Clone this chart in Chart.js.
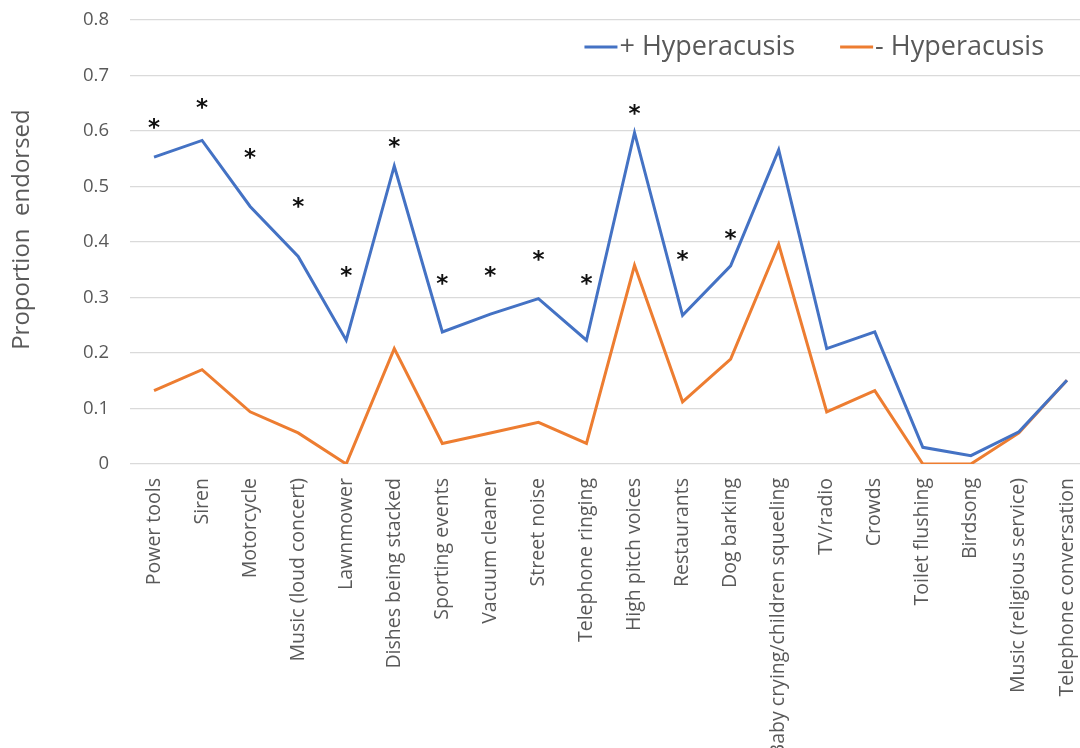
<!DOCTYPE html>
<html>
<head>
<meta charset="utf-8">
<script src="https://cdn.jsdelivr.net/npm/chart.js@4"></script>
<style>
html,body{margin:0;padding:0;background:#fff;overflow:hidden;width:1080px;height:748px;}
canvas{display:block;}
</style>
</head>
<body>
<canvas id="c" width="1095" height="748"></canvas>
<script>
const categories = ["Power tools","Siren","Motorcycle","Music (loud concert)","Lawnmower","Dishes being stacked","Sporting events","Vacuum cleaner","Street noise","Telephone ringing","High pitch voices","Restaurants","Dog barking","Baby crying/children squeeling","TV/radio","Crowds","Toilet flushing","Birdsong","Music (religious service)","Telephone conversation"];
const plusHyperacusis = [0.553,0.583,0.464,0.374,0.223,0.537,0.238,0.27,0.298,0.223,0.597,0.268,0.357,0.566,0.208,0.238,0.03,0.015,0.058,0.151];
const minusHyperacusis = [0.132,0.17,0.094,0.056,0,0.208,0.037,0.056,0.075,0.037,0.358,0.112,0.189,0.396,0.094,0.132,0,0,0.056,0.151];
// significance markers (asterisk height, in y units), null = none
const asteriskLevels = [0.614,0.649,0.560,0.472,0.346,0.580,0.332,0.346,0.375,0.332,0.638,0.375,0.414,null,null,null,null,null,null,null];
const yTickLabels = ["0","0.1","0.2","0.3","0.4","0.5","0.6","0.7","0.8"];
const seriesNames = ["+ Hyperacusis","- Hyperacusis"];
const seriesColors = ["#4472C4","#ED7D31"];

const FONT = "'Open Sans', 'Liberation Sans', sans-serif";
const GREY = "#595959";

const asteriskPlugin = {
  id: 'asterisks',
  afterDatasetsDraw(chart) {
    const ctx = chart.ctx, xs = chart.scales.x, ys = chart.scales.y;
    ctx.save();
    ctx.fillStyle = '#111';
    ctx.font = "bold 23px 'DejaVu Sans', sans-serif";
    ctx.textAlign = 'center';
    ctx.textBaseline = 'alphabetic';
    const m = ctx.measureText('*');
    const mid = (m.actualBoundingBoxAscent - m.actualBoundingBoxDescent) / 2;
    asteriskLevels.forEach((v, i) => {
      if (v === null) return;
      ctx.fillText('*', xs.getPixelForValue(i), ys.getPixelForValue(v) + mid);
    });
    ctx.restore();
  }
};

const legendPlugin = {
  id: 'customLegend',
  afterDraw(chart) {
    const ctx = chart.ctx, area = chart.chartArea;
    ctx.save();
    ctx.font = "27px " + FONT;
    ctx.textBaseline = 'middle';
    ctx.textAlign = 'left';
    const y = 47;
    const lineW = 33, gap = 2, itemGap = 45;
    let x = area.right - 47;
    for (let k = seriesNames.length - 1; k >= 0; k--) {
      const w = ctx.measureText(seriesNames[k]).width;
      const tx = x - w;
      ctx.fillStyle = GREY;
      ctx.fillText(seriesNames[k], tx, y);
      ctx.strokeStyle = seriesColors[k];
      ctx.lineWidth = 3;
      ctx.beginPath();
      ctx.moveTo(tx - gap - lineW, y);
      ctx.lineTo(tx - gap, y);
      ctx.stroke();
      x = tx - gap - lineW - itemGap;
    }
    ctx.restore();
  }
};

new Chart(document.getElementById('c'), {
  type: 'line',
  data: {
    labels: categories,
    datasets: [
      {label: seriesNames[0], data: plusHyperacusis, borderColor: seriesColors[0], backgroundColor: seriesColors[0], borderWidth: 3, pointRadius: 0, tension: 0},
      {label: seriesNames[1], data: minusHyperacusis, borderColor: seriesColors[1], backgroundColor: seriesColors[1], borderWidth: 3, pointRadius: 0, tension: 0}
    ]
  },
  options: {
    responsive: false,
    animation: false,
    events: [],
    layout: {padding: {top: 20, right: 4, left: 0, bottom: 0}},
    plugins: {legend: {display: false}, tooltip: {enabled: false}},
    scales: {
      x: {
        offset: true,
        grid: {display: false, drawTicks: false},
        border: {display: false},
        ticks: {color: GREY, font: {family: FONT, size: 19.5}, maxRotation: 90, minRotation: 90, autoSkip: false, padding: 14},
        afterFit(scale) { scale.height = 284; scale.paddingLeft = 0; scale.paddingRight = 0; }
      },
      y: {
        min: 0, max: 0.8,
        grid: {color: '#dadada', lineWidth: 1.3, drawTicks: false},
        border: {display: false},
        ticks: {stepSize: 0.1, color: GREY, font: {family: FONT, size: 18.5}, padding: 21,
          callback: (v, i) => yTickLabels[i]},
        title: {display: true, text: '    Proportion  endorsed', color: GREY, font: {family: FONT, size: 24}, padding: {top: 8, bottom: 0}},
        afterFit(scale) { scale.width = 130; scale.paddingTop = 0; scale.paddingBottom = 0; }
      }
    }
  },
  plugins: [asteriskPlugin, legendPlugin]
});
</script>
</body>
</html>
